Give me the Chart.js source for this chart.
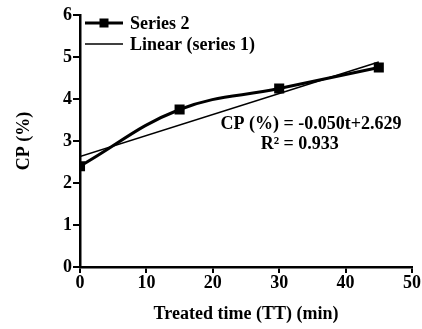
<!DOCTYPE html>
<html>
<head>
<meta charset="utf-8">
<script src="https://cdn.jsdelivr.net/npm/chart.js@4.4.1/dist/chart.umd.min.js"></script>
<style>
  html, body { margin: 0; padding: 0; background: #fff; }
  #wrap { width: 422px; height: 329px; }
</style>
</head>
<body>
<div id="wrap"><canvas id="cpChart"></canvas></div>
<script>
// Data
const treatedTime = [0, 15, 30, 45];
const series2 = [2.4, 3.75, 4.25, 4.75];
const fitTime = [0, 45];
const fitValues = [2.629, 4.879];
const xTicks = [0, 10, 20, 30, 40, 50];
const yTicks = [0, 1, 2, 3, 4, 5, 6];
const legendLabels = ["Series 2", "Linear (series 1)"];
const equationLines = ["CP (%) = -0.050t+2.629", "R\u00b2 = 0.933"];

const serif = "'Liberation Serif', 'Times New Roman', serif";
const fontSize = 18;

// Legend drawn inside the plot, top-left, like the original
const insideLegend = {
    id: 'insideLegend',
    afterDraw(chart) {
        const c = chart.ctx;
        const area = chart.chartArea;
        c.save();
        c.font = "bold " + fontSize + "px " + serif;
        c.textBaseline = 'middle';
        c.fillStyle = '#000';
        c.strokeStyle = '#000';
        const x0 = area.left + 5, x1 = area.left + 43;
        const rows = [area.top + 8, area.top + 29];
        // Series 2 row
        c.lineWidth = 3;
        c.beginPath(); c.moveTo(x0, rows[0]); c.lineTo(x1, rows[0]); c.stroke();
        c.fillRect((x0 + x1) / 2 - 4.5, rows[0] - 4.5, 9, 9);
        c.fillText(legendLabels[0], x1 + 7, rows[0] + 1);
        // Linear row
        c.lineWidth = 1.5;
        c.beginPath(); c.moveTo(x0, rows[1]); c.lineTo(x1, rows[1]); c.stroke();
        c.fillText(legendLabels[1], x1 + 7, rows[1] + 1);

        // Equation text
        c.textAlign = 'center';
        const sx = chart.scales.x, sy = chart.scales.y;
        c.fillText(equationLines[0], sx.getPixelForValue(34.8), sy.getPixelForValue(3.40));
        c.fillText(equationLines[1], sx.getPixelForValue(33.1), sy.getPixelForValue(2.93));
        c.restore();
    }
};

const ctx = document.getElementById('cpChart').getContext('2d');

const tickFont = { family: serif, size: fontSize, weight: 'bold' };

const config = {
    type: 'line',
    data: {
        datasets: [
            {
                label: legendLabels[1],
                data: fitTime.map((t, i) => ({ x: t, y: fitValues[i] })),
                borderColor: '#000',
                borderWidth: 1.5,
                pointRadius: 0,
                tension: 0
            },
            {
                label: legendLabels[0],
                data: treatedTime.map((t, i) => ({ x: t, y: series2[i] })),
                borderColor: '#000',
                backgroundColor: '#000',
                borderWidth: 3,
                pointStyle: 'rect',
                pointRadius: 5,
                tension: 0.4
            }
        ]
    },
    options: {
        responsive: false,
        animation: false,
        maintainAspectRatio: false,
        layout: { padding: { top: 15, right: 10, left: 0, bottom: 0 } },
        plugins: {
            legend: { display: false },
            tooltip: { enabled: false }
        },
        scales: {
            x: {
                type: 'linear',
                min: 0,
                max: 50,
                afterBuildTicks: axis => { axis.ticks = xTicks.map(v => ({ value: v })); },
                afterFit: axis => { axis.height = 62; },
                grid: { drawOnChartArea: false, drawTicks: true, tickLength: 6, color: '#000', lineWidth: 2 },
                border: { color: '#000', width: 2.5 },
                ticks: { color: '#000', font: tickFont, padding: 0, maxRotation: 0 },
                title: {
                    display: true,
                    text: 'Treated time (TT) (min)',
                    color: '#000',
                    font: tickFont,
                    padding: { top: 12 }
                }
            },
            y: {
                min: 0,
                max: 6,
                afterBuildTicks: axis => { axis.ticks = yTicks.map(v => ({ value: v })); },
                afterFit: axis => { axis.width = 80; },
                grid: { drawOnChartArea: false, drawTicks: true, tickLength: 7, color: '#000', lineWidth: 2 },
                border: { color: '#000', width: 2.5 },
                ticks: { color: '#000', font: tickFont, padding: 1 },
                title: {
                    display: true,
                    text: 'CP (%)',
                    color: '#000',
                    font: tickFont,
                    padding: { top: 14, bottom: 0 }
                }
            }
        }
    },
    plugins: [insideLegend]
};

const cv = document.getElementById('cpChart');
cv.width = 422; cv.height = 329;
new Chart(ctx, config);
</script>
</body>
</html>
